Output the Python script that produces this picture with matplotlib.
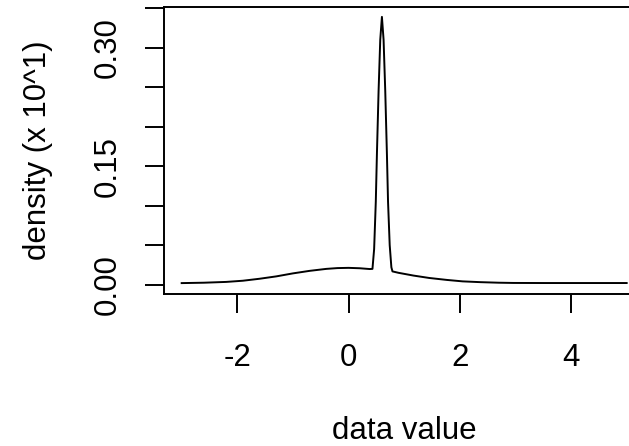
import matplotlib
matplotlib.use("Agg")
import matplotlib.pyplot as plt

plt.rcParams['font.family'] = ['Liberation Sans', 'DejaVu Sans']

# density curve
x_vals = [-3.0, -2.6, -2.2, -1.9, -1.6, -1.3, -1.0, -0.7, -0.4, -0.2, 0.0, 0.2, 0.38, 0.43,
          0.46, 0.49, 0.51, 0.54, 0.57, 0.6, 0.63, 0.66, 0.69, 0.71, 0.74, 0.77, 0.79,
          0.9, 1.17, 1.45, 1.77, 2.05, 2.37, 2.7, 2.96, 3.5, 4.0, 4.5, 5.0]
y_vals = [0.002, 0.0025, 0.0035, 0.005, 0.0075, 0.0105, 0.0143, 0.0175, 0.0200, 0.0210, 0.0213, 0.0208, 0.0198, 0.0200,
          0.045, 0.105, 0.165, 0.245, 0.31, 0.339, 0.31, 0.245, 0.165, 0.105, 0.050, 0.022, 0.0168,
          0.0150, 0.0115, 0.0085, 0.0060, 0.0042, 0.0032, 0.0025, 0.0022, 0.0021, 0.0021, 0.0021, 0.0021]

x_ticks = [-2, 0, 2, 4]
x_ticklabels = ['-2', '0', '2', '4']
y_ticks = [0.0, 0.05, 0.10, 0.15, 0.20, 0.25, 0.30, 0.35]
y_ticklabels = ['0.00', '', '', '0.15', '', '', '0.30', '']

fig = plt.figure(figsize=(6.29, 4.46), dpi=100)
ax = fig.add_axes([0.2607, 0.3408, 0.763, 0.6435])
ax.plot(x_vals, y_vals, color='black', lw=1.4)
ax.set_xlim(-3.318, 5.31)
ax.set_ylim(-0.0118, 0.3515)
ax.set_xticks(x_ticks)
ax.set_xticklabels(x_ticklabels)
ax.set_yticks(y_ticks)
ax.set_yticklabels(y_ticklabels)
for s in ax.spines.values():
    s.set_linewidth(1.4)
ax.tick_params(axis='both', direction='out', length=14, width=1.4, labelsize=22.5, colors='black')
ax.tick_params(axis='x', pad=21)
ax.tick_params(axis='y', pad=16)
for lab in ax.get_yticklabels():
    lab.set_rotation(90)
    lab.set_va('center')
ax.set_xlabel('data value', fontsize=22.5, labelpad=31)
ax.set_ylabel('density (x 10^1)', fontsize=22.5, labelpad=28)
fig.savefig('out.png', dpi=100)
